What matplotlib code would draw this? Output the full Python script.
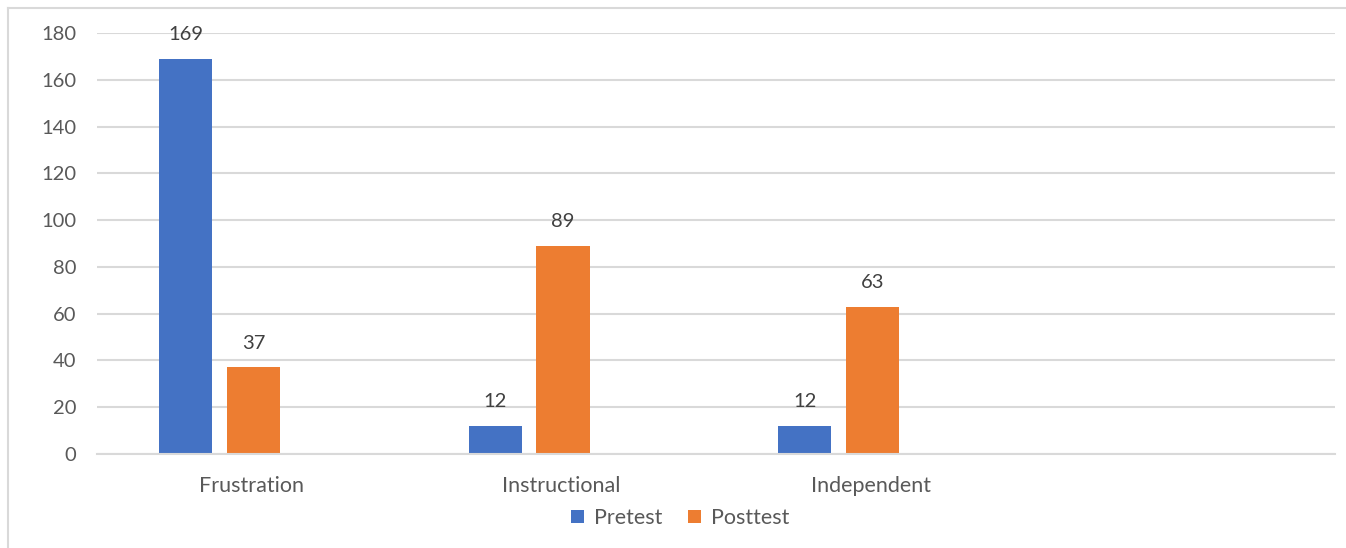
import matplotlib.pyplot as plt
import numpy as np
from matplotlib.lines import Line2D

categories = ["Frustration", "Instructional", "Independent", ""]
pretest = [169, 12, 12]
posttest = [37, 89, 63]

blue = "#4472C4"
orange = "#ED7D31"
grey_text = "#595959"
grid_col = "#D9D9D9"

plt.rcParams['font.family'] = ['Lato', 'DejaVu Sans']

fig = plt.figure(figsize=(13.46, 5.48), dpi=100)
W, H = 1346, 548
ax = fig.add_axes([97 / W, (H - 454) / H, (1335 - 97) / W, (454 - 33) / H])

x = np.arange(len(pretest))
width = 0.172

b1 = ax.bar(x - 0.213, pretest, width, color=blue, label="Pretest")
b2 = ax.bar(x + 0.006, posttest, width, color=orange, label="Posttest")

for bars, vals in ((b1, pretest), (b2, posttest)):
    for rect, v in zip(bars, vals):
        ax.annotate(str(v), (rect.get_x() + rect.get_width() / 2, v),
                    xytext=(0, 17.5), textcoords="offset points",
                    ha="center", va="center", fontsize=14.5, color="#404040")

ax.set_xlim(-0.5, len(categories) - 0.5)
ax.set_ylim(0, 180)
ax.set_yticks(np.arange(0, 181, 20))
ax.set_xticks(np.arange(len(categories)))
ax.set_xticklabels(categories)

ax.grid(axis="y", color=grid_col, linewidth=1.5)
ax.set_axisbelow(True)
for s in ("top", "right", "left"):
    ax.spines[s].set_visible(False)
ax.spines["bottom"].set_color(grid_col)
ax.spines["bottom"].set_linewidth(1.5)
ax.tick_params(axis="both", length=0, labelsize=14.5, colors=grey_text)
ax.tick_params(axis="x", labelsize=15.5, pad=16)
ax.tick_params(axis="y", pad=15)

fig.legend(handles=[b1, b2], loc="center", bbox_to_anchor=(680 / W, (H - 518) / H),
           ncol=2, frameon=False, fontsize=15.5, labelcolor=grey_text,
           handlelength=0.6, handleheight=0.6, handletextpad=0.45, columnspacing=1.2)

# chart border (top and left edges)
fig.add_artist(Line2D([8 / W, 1.0], [(H - 8) / H, (H - 8) / H], color=grid_col, lw=1.5))
fig.add_artist(Line2D([8 / W, 8 / W], [0, (H - 8) / H], color=grid_col, lw=1.5))

fig.savefig("out.png", dpi=100)
